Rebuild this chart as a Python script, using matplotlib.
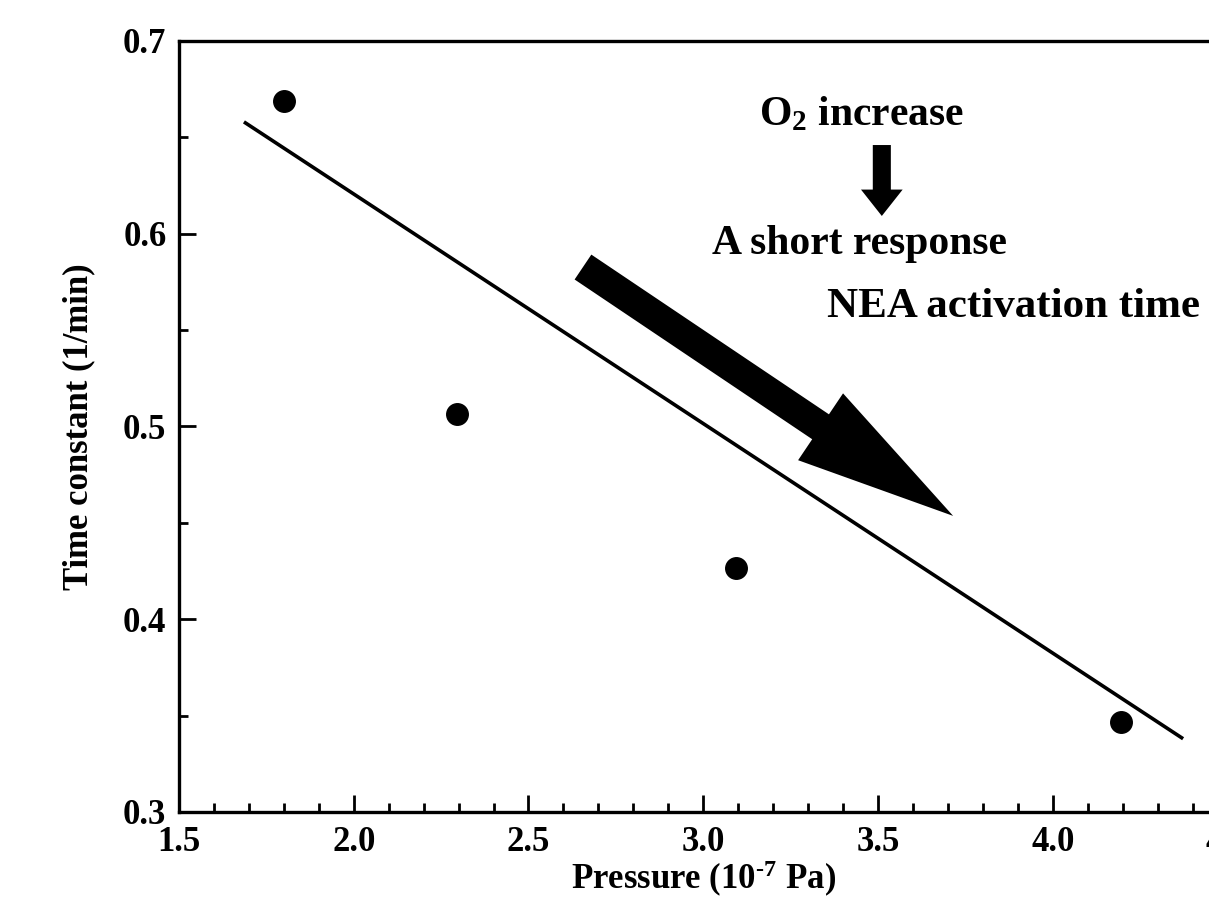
import matplotlib
matplotlib.use("Agg")
import matplotlib.pyplot as plt
from matplotlib.ticker import MultipleLocator, FormatStrFormatter

# time constant vs O2 partial pressure
pressure = [1.80, 2.295, 3.094, 4.195]
time_const = [0.669, 0.5065, 0.4266, 0.3467]

# trend line end points
trend_x = [1.686, 4.373]
trend_y = [0.658, 0.338]

# big arrow (tail -> tip) and small arrow (top -> tip)
big_arrow_x = [2.656, 3.715]
big_arrow_y = [0.5827, 0.4536]
small_arrow_x = [3.511, 3.511]
small_arrow_y = [0.646, 0.6092]

plt.rcParams['font.family'] = 'Liberation Serif'
plt.rcParams['font.weight'] = 'bold'
plt.rcParams['axes.labelweight'] = 'bold'
plt.rcParams['mathtext.fontset'] = 'custom'
plt.rcParams['mathtext.rm'] = 'Liberation Serif:bold'
plt.rcParams['mathtext.bf'] = 'Liberation Serif:bold'
plt.rcParams['mathtext.default'] = 'bf'

fig = plt.figure(figsize=(12.09, 9.18), dpi=100)
ax = fig.add_axes([0.148, 0.1155, 0.8673, 0.8399])

ax.plot(trend_x, trend_y, color='black', lw=2.6, solid_capstyle='butt')
ax.plot(pressure, time_const, 'o', color='black', ms=15.5)

ax.set_xlim(1.5, 4.5)
ax.set_ylim(0.3, 0.7)
ax.xaxis.set_major_locator(MultipleLocator(0.5))
ax.xaxis.set_minor_locator(MultipleLocator(0.1))
ax.yaxis.set_major_locator(MultipleLocator(0.1))
ax.yaxis.set_minor_locator(MultipleLocator(0.05))
ax.xaxis.set_major_formatter(FormatStrFormatter('%.1f'))
ax.yaxis.set_major_formatter(FormatStrFormatter('%.1f'))

ax.tick_params(which='both', direction='in', width=2.0, labelsize=25,
               top=False, right=False)
ax.tick_params(which='major', length=12)
ax.tick_params(which='minor', length=6.5)
ax.tick_params(axis='x', pad=10)
ax.tick_params(axis='y', pad=9)
for s in ax.spines.values():
    s.set_linewidth(2.4)

ax.set_xlabel(r'Pressure (10$^{\text{-7}}$ Pa)', fontsize=25, labelpad=0)
ax.set_ylabel('Time constant (1/min)', fontsize=25, labelpad=20)

# arrows
ax.annotate('', xy=(big_arrow_x[1], big_arrow_y[1]),
            xytext=(big_arrow_x[0], big_arrow_y[0]),
            arrowprops=dict(arrowstyle='simple,head_length=1.15,head_width=0.58,tail_width=0.216',
                            mutation_scale=100, color='black', shrinkA=0, shrinkB=0, lw=0))
ax.annotate('', xy=(small_arrow_x[1], small_arrow_y[1]),
            xytext=(small_arrow_x[0], small_arrow_y[0]),
            arrowprops=dict(arrowstyle='simple,head_length=0.19,head_width=0.30,tail_width=0.13',
                            mutation_scale=100, color='black', shrinkA=0, shrinkB=0, lw=0))

ax.text(3.160, 0.6564, r'O$_{\mathbf{2}}$ increase', fontsize=30, ha='left', va='baseline')
ax.text(3.025, 0.5896, 'A short response', fontsize=30, ha='left', va='baseline')
ax.text(3.354, 0.5568, 'NEA activation time', fontsize=31, ha='left', va='baseline')

fig.savefig('out.png', dpi=100)
